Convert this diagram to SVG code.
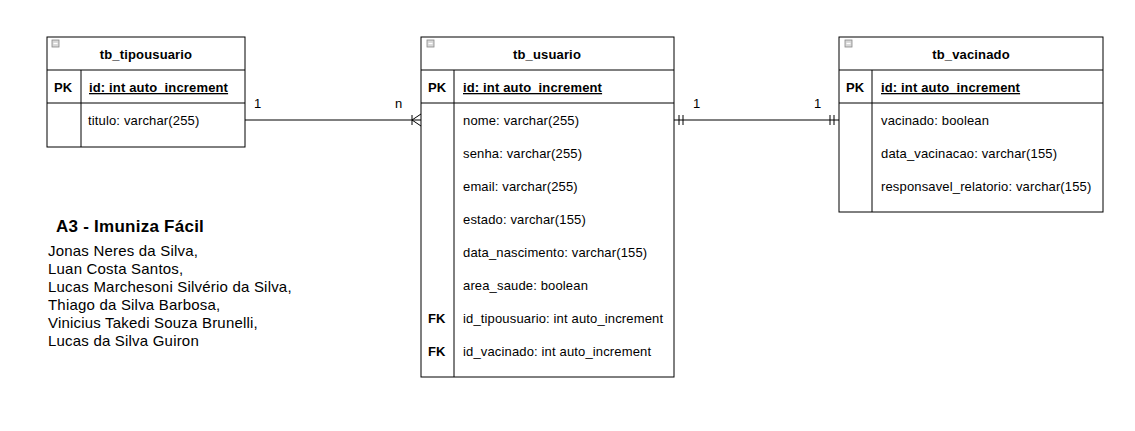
<svg xmlns="http://www.w3.org/2000/svg" width="1135" height="431" viewBox="0 0 1135 431">
<style>
.box{fill:#fff;stroke:#000;stroke-width:1}
.ln{stroke:#000;stroke-width:1;fill:none}
.t{font-family:"Liberation Sans",Arial,sans-serif;font-size:13px;letter-spacing:0.15px;fill:#000}
.b{font-weight:bold}
.c{text-anchor:middle}
.u{text-decoration:underline}
.big{font-family:"Liberation Sans",Arial,sans-serif;font-size:17px;letter-spacing:0.25px;font-weight:bold;fill:#000}
.nm{font-family:"Liberation Sans",Arial,sans-serif;font-size:15px;letter-spacing:0.2px;fill:#000}
.ico{fill:#d8d8d8;stroke:#888;stroke-width:0.8}
</style>
<defs>
<g id="minus"><rect class="ico" x="0" y="0" width="7" height="7"/><line x1="1.5" y1="3.5" x2="5.5" y2="3.5" stroke="#fff" stroke-width="1.2"/></g>
</defs>
<rect width="1135" height="431" fill="#fff"/>

<g id="tb_tipousuario">
<rect class="box" x="47" y="37" width="198" height="110"/>
<line class="ln" x1="47" y1="70" x2="245" y2="70"/>
<line class="ln" x1="47" y1="103" x2="245" y2="103"/>
<line class="ln" x1="81" y1="70" x2="81" y2="147"/>
<use href="#minus" x="52" y="40"/>
<text class="t b c" x="146" y="59">tb_tipousuario</text>
<text class="t b" x="54" y="92">PK</text>
<text class="t b u" x="89" y="92">id: int auto_increment</text>
<text class="t" x="88" y="125">titulo: varchar(255)</text>
</g>

<g id="tb_usuario">
<rect class="box" x="421" y="37" width="253" height="340"/>
<line class="ln" x1="421" y1="70" x2="674" y2="70"/>
<line class="ln" x1="421" y1="103" x2="674" y2="103"/>
<line class="ln" x1="454" y1="70" x2="454" y2="377"/>
<use href="#minus" x="427" y="40"/>
<text class="t b c" x="547" y="59">tb_usuario</text>
<text class="t b" x="428" y="92">PK</text>
<text class="t b u" x="463" y="92">id: int auto_increment</text>
<text class="t" x="463" y="125">nome: varchar(255)</text>
<text class="t" x="463" y="158">senha: varchar(255)</text>
<text class="t" x="463" y="191">email: varchar(255)</text>
<text class="t" x="463" y="224">estado: varchar(155)</text>
<text class="t" x="463" y="257">data_nascimento: varchar(155)</text>
<text class="t" x="463" y="290">area_saude: boolean</text>
<text class="t b" x="428" y="323">FK</text>
<text class="t" x="463" y="323">id_tipousuario: int auto_increment</text>
<text class="t b" x="428" y="356">FK</text>
<text class="t" x="463" y="356">id_vacinado: int auto_increment</text>
</g>

<g id="tb_vacinado">
<rect class="box" x="839" y="37" width="264" height="175"/>
<line class="ln" x1="839" y1="70" x2="1103" y2="70"/>
<line class="ln" x1="839" y1="103" x2="1103" y2="103"/>
<line class="ln" x1="872" y1="70" x2="872" y2="212"/>
<use href="#minus" x="845" y="40"/>
<text class="t b c" x="971" y="59">tb_vacinado</text>
<text class="t b" x="846" y="92">PK</text>
<text class="t b u" x="881" y="92">id: int auto_increment</text>
<text class="t" x="881" y="125">vacinado: boolean</text>
<text class="t" x="881" y="158">data_vacinacao: varchar(155)</text>
<text class="t" x="881" y="191">responsavel_relatorio: varchar(155)</text>
</g>

<g id="connectors">
<line class="ln" x1="245" y1="120" x2="421" y2="120"/>
<line class="ln" x1="412" y1="115" x2="412" y2="125"/>
<path class="ln" d="M421,114 L412,120 L421,126"/>
<text class="t" x="254" y="108">1</text>
<text class="t" x="395" y="108">n</text>

<line class="ln" x1="674" y1="120" x2="839" y2="120"/>
<line class="ln" x1="679" y1="115" x2="679" y2="125"/>
<line class="ln" x1="683" y1="115" x2="683" y2="125"/>
<line class="ln" x1="830" y1="115" x2="830" y2="125"/>
<line class="ln" x1="834" y1="115" x2="834" y2="125"/>
<text class="t" x="693" y="108">1</text>
<text class="t" x="814" y="108">1</text>
</g>

<g id="info">
<text class="big" x="56" y="232">A3 - Imuniza Fácil</text>
<text class="nm" x="48" y="256">Jonas Neres da Silva,</text>
<text class="nm" x="48" y="274">Luan Costa Santos,</text>
<text class="nm" x="48" y="292">Lucas Marchesoni Silvério da Silva,</text>
<text class="nm" x="48" y="310">Thiago da Silva Barbosa,</text>
<text class="nm" x="48" y="328">Vinicius Takedi Souza Brunelli,</text>
<text class="nm" x="48" y="346">Lucas da Silva Guiron</text>
</g>
</svg>
